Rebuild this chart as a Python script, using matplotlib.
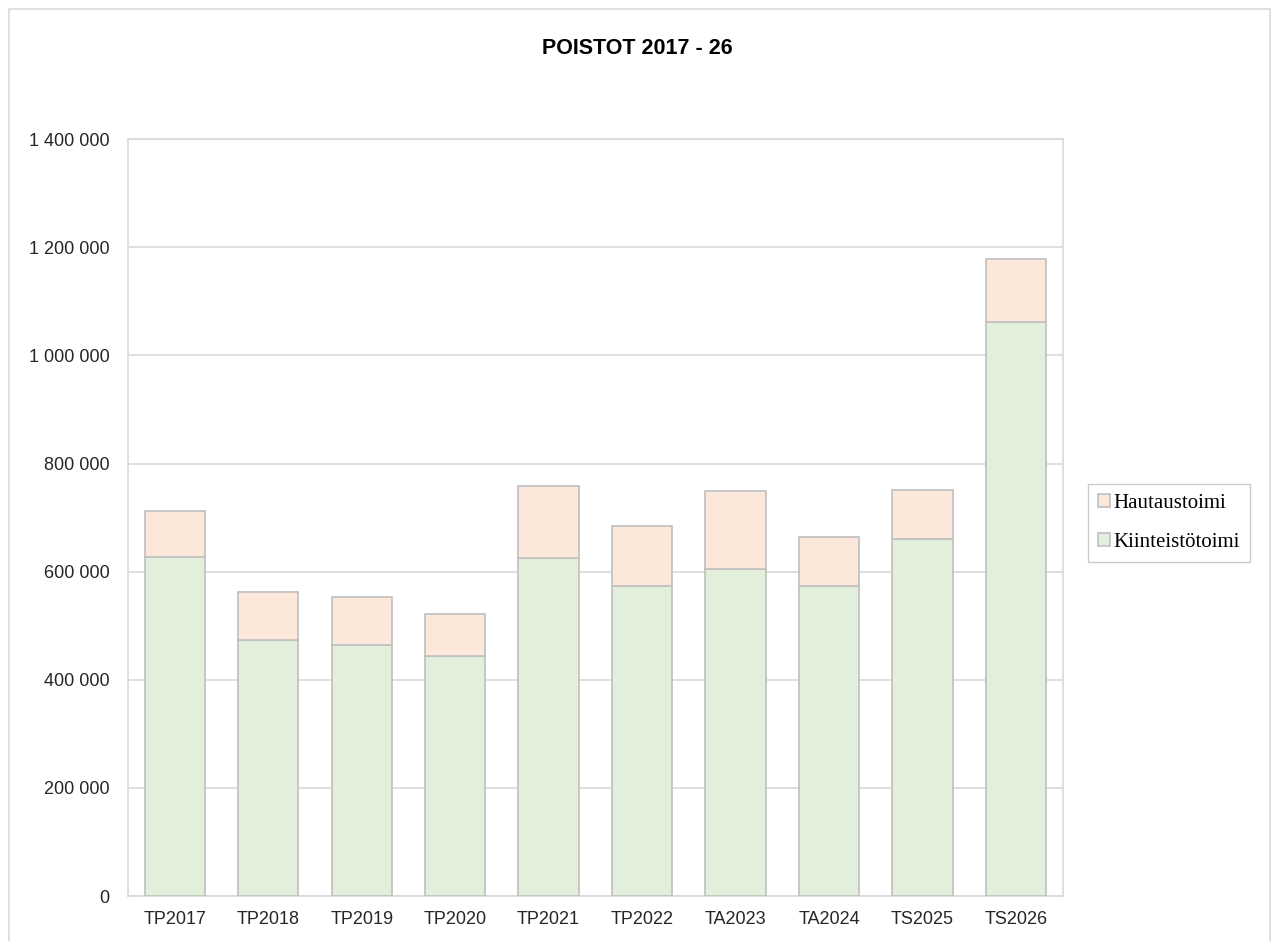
import numpy as np
import matplotlib.pyplot as plt
from matplotlib.patches import Rectangle
from matplotlib.ticker import FuncFormatter

categories = ['TP2017', 'TP2018', 'TP2019', 'TP2020', 'TP2021',
              'TP2022', 'TA2023', 'TA2024', 'TS2025', 'TS2026']
kiinteisto = [626700, 472900, 463600, 443900, 626200,
              573900, 604600, 573900, 661200, 1062700]
totals = [711700, 562100, 552900, 522100, 759100,
          685300, 749400, 663700, 751200, 1177800]
hautaus = [t - k for t, k in zip(totals, kiinteisto)]

green = '#E2EFDA'
peach = '#FCE8DB'
edge = '#BFBFBF'

fig = plt.figure(figsize=(12.74, 9.41), dpi=100)
ax = fig.add_axes([0.1005, 0.0478, 0.7336, 0.8042])

x = np.arange(len(categories))
b1 = ax.bar(x, kiinteisto, width=0.645, color=green, edgecolor=edge, linewidth=1.2,
            label='Kiinteistötoimi', zorder=3)
b2 = ax.bar(x, hautaus, bottom=kiinteisto, width=0.645, color=peach, edgecolor=edge,
            linewidth=1.2, label='Hautaustoimi', zorder=3)

ax.set_xlim(-0.5, len(categories) - 0.5)
ax.set_ylim(0, 1400000)
ax.set_yticks(np.arange(0, 1400001, 200000))
ax.yaxis.set_major_formatter(FuncFormatter(lambda v, p: f'{int(v):,}'.replace(',', ' ')))
ax.set_xticks(x)
ax.set_xticklabels(categories)
ax.grid(axis='y', color='#D9D9D9', linewidth=1.2, zorder=0)
ax.tick_params(axis='both', length=0, labelsize=13, colors='#262626')
ax.tick_params(axis='y', pad=13.5)
ax.tick_params(axis='x', pad=10.5)
for lab in ax.get_xticklabels() + ax.get_yticklabels():
    lab.set_fontfamily(['Liberation Sans', 'DejaVu Sans'])
for s in ax.spines.values():
    s.set_color('#D9D9D9')
    s.set_linewidth(1.2)

# otsikko
fig.text(0.5, 1 - 48 / 941, 'POISTOT 2017 - 26', ha='center', va='center',
         fontsize=15.5, fontweight='bold',
         family=['Liberation Sans Narrow', 'Liberation Sans', 'DejaVu Sans'])

leg = fig.legend([b2, b1], ['Hautaustoimi', 'Kiinteistötoimi'],
                 loc='center left', bbox_to_anchor=(1088 / 1274, 1 - 523 / 941),
                 prop={'family': ['Liberation Serif', 'DejaVu Serif'], 'size': 15},
                 handlelength=0.55, handleheight=0.55, handletextpad=0.15,
                 labelspacing=0.95, borderpad=0.5, borderaxespad=0,
                 frameon=True, fancybox=False)
leg.get_frame().set_edgecolor('#BFBFBF')
leg.get_frame().set_linewidth(1.0)

# ulkoreunus
fig.patches.append(Rectangle((9 / 1274, -0.05), 1261 / 1274, 1.05 - 9 / 941,
                             transform=fig.transFigure, fill=False,
                             edgecolor='#D9D9D9', linewidth=1.2))

fig.savefig('out.png', dpi=100)
